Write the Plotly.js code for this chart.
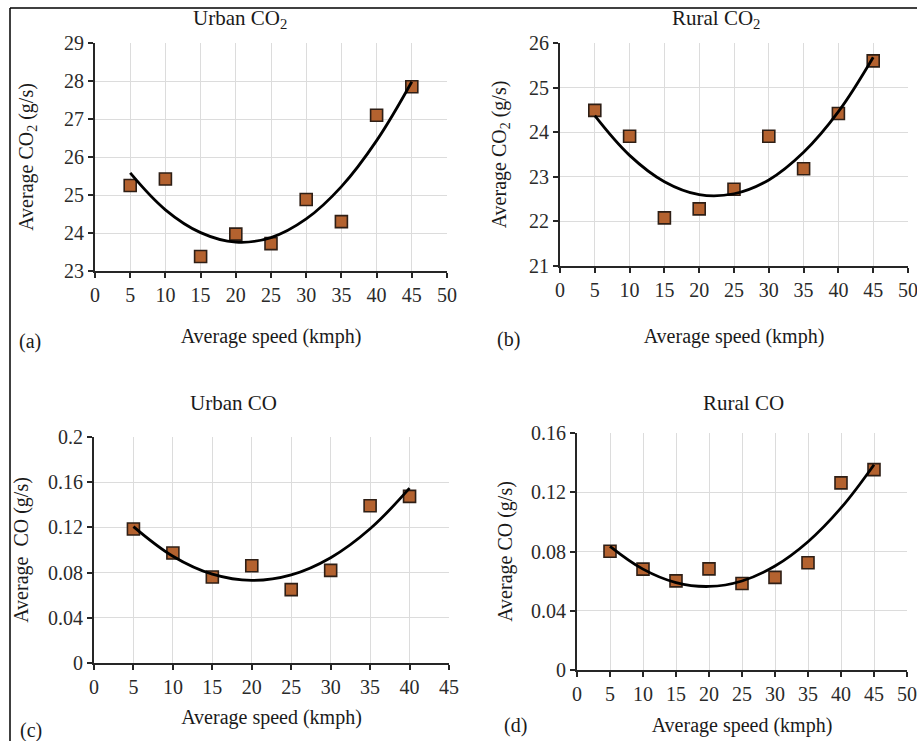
<!DOCTYPE html>
<html>
<head>
<meta charset="utf-8">
<script src="https://cdn.plot.ly/plotly-3.0.1.min.js"></script>
<style>html,body{margin:0;padding:0;background:#fff;}#chart{width:917px;height:741px;}</style>
</head>
<body>
<div id="chart"></div>
<script>
// Speeds (kmph)
const speeds9 = [5, 10, 15, 20, 25, 30, 35, 40, 45];
const speeds8 = [5, 10, 15, 20, 25, 30, 35, 40];

// (a) Urban CO2 (g/s)
const urbanCO2 = [25.25, 25.42, 23.38, 23.97, 23.72, 24.88, 24.30, 27.10, 27.85];
const urbanCO2Trend = [25.58, 24.61, 24.01, 23.76, 23.88, 24.37, 25.22, 26.43, 27.98];
// (b) Rural CO2 (g/s)
const ruralCO2 = [24.49, 23.91, 22.08, 22.28, 22.72, 23.91, 23.18, 24.42, 25.60];
const ruralCO2Trend = [24.37, 23.48, 22.89, 22.60, 22.62, 22.93, 23.55, 24.46, 25.68];
// (c) Urban CO (g/s)
const urbanCO = [0.1186, 0.0973, 0.0761, 0.0861, 0.0649, 0.0820, 0.1392, 0.1475];
const urbanCOTrend = [0.1207, 0.0945, 0.0786, 0.0731, 0.0780, 0.0932, 0.1188, 0.1547];
// (d) Rural CO (g/s)
const ruralCO = [0.0802, 0.0681, 0.0602, 0.0683, 0.0584, 0.0625, 0.0724, 0.1263, 0.1353];
const ruralCOTrend = [0.0835, 0.0681, 0.0590, 0.0564, 0.0601, 0.0702, 0.0866, 0.1094, 0.1386];

const W = 917, H = 741;
const px = v => v / W;
const py = v => 1 - v / H;

const FONT = '"Liberation Serif", "Times New Roman", serif';
const markerStyle = {symbol: 'square', size: 12, color: '#b4622f', line: {color: '#2e1f16', width: 1.6}};
const lineStyle = {color: '#000000', width: 2.8, shape: 'spline', smoothing: 1.1};

function pts(x, y, xa, ya) {
  return {x: x, y: y, xaxis: xa, yaxis: ya, type: 'scatter', mode: 'markers', marker: markerStyle, showlegend: false, hoverinfo: 'x+y'};
}
function trend(x, y, xa, ya) {
  return {x: x, y: y, xaxis: xa, yaxis: ya, type: 'scatter', mode: 'lines', line: lineStyle, showlegend: false, hoverinfo: 'skip'};
}

const data = [
  pts(speeds9, urbanCO2, 'x', 'y'), trend(speeds9, urbanCO2Trend, 'x', 'y'),
  pts(speeds9, ruralCO2, 'x2', 'y2'), trend(speeds9, ruralCO2Trend, 'x2', 'y2'),
  pts(speeds8, urbanCO, 'x3', 'y3'), trend(speeds8, urbanCOTrend, 'x3', 'y3'),
  pts(speeds9, ruralCO, 'x4', 'y4'), trend(speeds9, ruralCOTrend, 'x4', 'y4')
];

function xax(domain, range, dtick, anchor, standoff) {
  return {
    domain: domain, range: range, dtick: dtick, tick0: 0, anchor: anchor,
    showline: true, linecolor: '#262626', linewidth: 2,
    ticks: 'outside', ticklen: 5, tickwidth: 2, tickcolor: '#262626',
    showgrid: true, gridcolor: '#dcdcdc', gridwidth: 1, zeroline: false,
    ticklabeloverflow: 'allow',
    tickfont: {family: FONT, size: 20, color: '#2a2a2a'},
    title: {text: 'Average speed (kmph)', font: {family: FONT, size: 20, color: '#1a1a1a'}, standoff: standoff},
    fixedrange: true
  };
}
function yax(domain, range, dtick, anchor, title, standoff) {
  return {
    domain: domain, range: range, dtick: dtick, tick0: 0, anchor: anchor,
    showline: true, linecolor: '#262626', linewidth: 2,
    ticks: 'outside', ticklen: 5, tickwidth: 2, tickcolor: '#262626',
    showgrid: true, gridcolor: '#dcdcdc', gridwidth: 1, zeroline: false,
    ticklabeloverflow: 'allow',
    tickfont: {family: FONT, size: 20, color: '#2a2a2a'},
    title: {text: title, font: {family: FONT, size: 20, color: '#1a1a1a'}, standoff: standoff},
    fixedrange: true
  };
}

function ann(text, x, y, size) {
  return {text: text, x: px(x), y: py(y), xref: 'paper', yref: 'paper', showarrow: false,
          xanchor: 'center', yanchor: 'middle', font: {family: FONT, size: size, color: '#1a1a1a'}};
}

const layout = {
  width: W, height: H,
  margin: {l: 0, r: 0, t: 0, b: 0},
  paper_bgcolor: '#ffffff', plot_bgcolor: '#ffffff',
  showlegend: false,
  font: {family: FONT},
  xaxis: xax([px(95), px(447)], [0, 50], 5, 'y', 24),
  yaxis: yax([py(271), py(43)], [23, 29], 1, 'x', 'Average CO<sub>2</sub> (g/s)', 25),
  xaxis2: xax([px(560), px(908)], [0, 50], 5, 'y2', 29),
  yaxis2: yax([py(266), py(43)], [21, 26], 1, 'x2', 'Average CO<sub>2</sub> (g/s)', 17),
  xaxis3: xax([px(94), px(449)], [0, 45], 5, 'y3', 13),
  yaxis3: yax([py(663), py(437)], [0, 0.2], 0.04, 'x3', 'Average\u00a0\u00a0CO (g/s)', 14),
  xaxis4: xax([px(577), px(907)], [0, 50], 5, 'y4', 14),
  yaxis4: yax([py(670), py(433)], [0, 0.16], 0.04, 'x4', 'Average CO (g/s)', 13),
  annotations: [
    ann('Urban CO<sub>2</sub>', 240, 19, 21),
    ann('Rural CO<sub>2</sub>', 716, 19, 21),
    ann('Urban CO', 233, 403, 21),
    ann('Rural CO', 743, 403, 21),
    ann('(a)', 30, 341, 20),
    ann('(b)', 509, 339, 20),
    ann('(c)', 31, 730, 20),
    ann('(d)', 515, 725, 20)
  ],
  shapes: [
    {type: 'line', xref: 'paper', yref: 'paper', x0: px(10), x1: 1, y0: py(8), y1: py(8), line: {color: '#000', width: 1.5}},
    {type: 'line', xref: 'paper', yref: 'paper', x0: px(10), x1: px(10), y0: py(8), y1: 0, line: {color: '#000', width: 1.5}}
  ]
};

Plotly.newPlot('chart', data, layout, {displayModeBar: false, staticPlot: true});
</script>
</body>
</html>
